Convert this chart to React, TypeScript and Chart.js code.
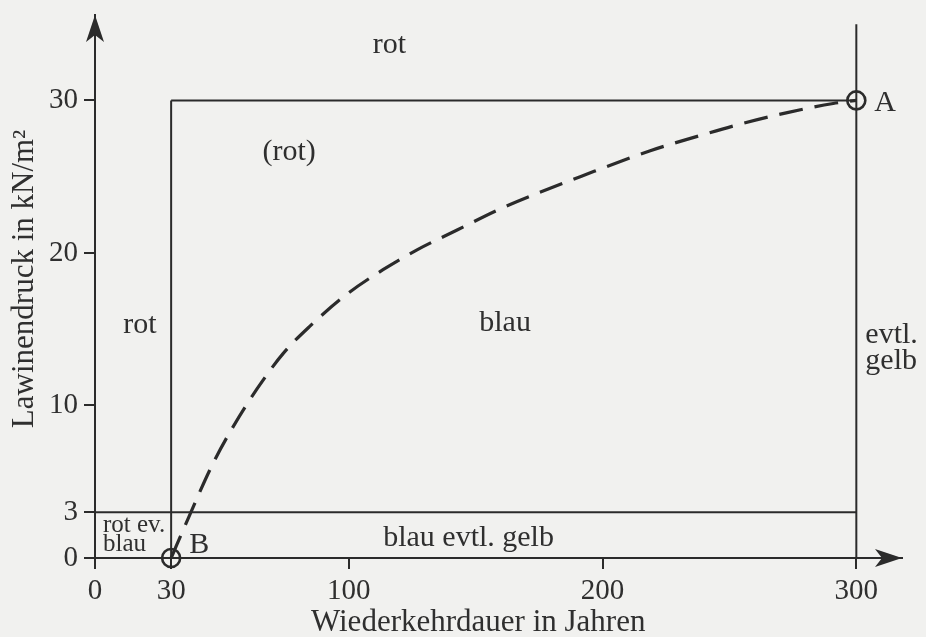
import React, { useEffect, useRef } from "react";
import { Chart, registerables } from "chart.js";

Chart.register(...registerables);

// ---- axes ----
const xTicks = [0, 30, 100, 200, 300];
const yTicks = [0, 3, 10, 20, 30];
const xMax = 318;
const yMax = 35.6;

// ---- dashed curve from B to A ----
const curveX = [30, 37, 46.5, 54.4, 63.9, 74.1, 84.7, 99.3, 113.5, 126.9, 142.7, 158.5, 174.2, 191.2, 218.8, 238.5, 255.4, 272.8, 290.9, 300];
const curveY = [0, 2.7, 6.2, 8.6, 11.1, 13.4, 15.2, 17.3, 18.9, 20.2, 21.5, 22.8, 23.9, 25.0, 26.7, 27.7, 28.5, 29.2, 29.8, 30];

// ---- zone boundaries ----
const lowPressure = 3;
const highPressure = 30;
const shortReturn = 30;
const longReturn = 300;
const longReturnTop = 35;

// ---- marked points ----
const pointNames = ["A", "B"];
const pointX = [300, 30];
const pointY = [30, 0];

// ---- zone names (anchored in data units) ----
const zoneText = ["rot", "(rot)", "rot", "blau", "blau evtl. gelb"];
const zoneX = [116, 76.5, 17.7, 161.6, 147.2];
const zoneY = [33.6, 26.6, 15.3, 15.4, 1.3];

const sideText = ["evtl.", "gelb"];
const sideY = [14.6, 12.9];

const cornerText = ["rot ev.", "blau"];
const cornerY = [2.15, 0.9];

const xTitle = "Wiederkehrdauer in Jahren";
const yTitle = "Lawinendruck in kN/m²";

const FONT = '"Liberation Serif", "Times New Roman", serif';
const INK = "#2b2b2b";
const TEXT = "#2f2f2f";

const paperPlugin = {
  id: "paper",
  beforeDraw(chart: any) {
    const { ctx, width, height } = chart;
    ctx.save();
    ctx.fillStyle = "#f1f1ef";
    ctx.fillRect(0, 0, width, height);
    ctx.restore();
  },
};

const decorPlugin = {
  id: "decor",
  afterDraw(chart: any) {
    const { ctx, chartArea, scales } = chart;
    const xs = scales.x;
    const ys = scales.y;
    ctx.save();
    ctx.fillStyle = INK;
    // x arrow
    const ax = chartArea.right;
    const ay = ys.getPixelForValue(0);
    ctx.beginPath();
    ctx.moveTo(ax, ay);
    ctx.lineTo(ax - 27, ay - 9);
    ctx.lineTo(ax - 20, ay);
    ctx.lineTo(ax - 27, ay + 9);
    ctx.closePath();
    ctx.fill();
    // y arrow
    const bx = xs.getPixelForValue(0);
    const by = chartArea.top;
    ctx.beginPath();
    ctx.moveTo(bx, by);
    ctx.lineTo(bx - 9, by + 27);
    ctx.lineTo(bx, by + 20);
    ctx.lineTo(bx + 9, by + 27);
    ctx.closePath();
    ctx.fill();

    ctx.fillStyle = TEXT;
    ctx.textBaseline = "middle";
    ctx.font = `30px ${FONT}`;
    ctx.textAlign = "center";
    zoneText.forEach((t, i) => {
      ctx.fillText(t, xs.getPixelForValue(zoneX[i]), ys.getPixelForValue(zoneY[i]));
    });
    ctx.textAlign = "left";
    sideText.forEach((t, i) => {
      ctx.fillText(t, xs.getPixelForValue(longReturn) + 9, ys.getPixelForValue(sideY[i]));
    });
    ctx.font = `25px ${FONT}`;
    cornerText.forEach((t, i) => {
      ctx.fillText(t, xs.getPixelForValue(0) + 8, ys.getPixelForValue(cornerY[i]));
    });
    // point names
    ctx.font = `30px ${FONT}`;
    pointNames.forEach((t, i) => {
      const px = xs.getPixelForValue(pointX[i]);
      const py = ys.getPixelForValue(pointY[i]);
      ctx.fillText(t, px + 18, py + (i === 1 ? -13 : 3));
    });
    // axis titles
    ctx.font = `31px ${FONT}`;
    ctx.textAlign = "center";
    ctx.textBaseline = "alphabetic";
    ctx.fillText(xTitle, xs.getPixelForValue(151), chart.height - 6);
    ctx.save();
    ctx.translate(25, ys.getPixelForValue(18.3));
    ctx.rotate(-Math.PI / 2);
    ctx.textBaseline = "middle";
    ctx.fillText(yTitle, 0, 0);
    ctx.restore();
    ctx.restore();
  },
};

const seg = (x1: number, y1: number, x2: number, y2: number) => [
  { x: x1, y: y1 },
  { x: x2, y: y2 },
];

export default function App() {
  const ref = useRef<HTMLCanvasElement>(null);
  useEffect(() => {
    if (!ref.current) return;
    const lineStyle = {
      type: "line" as const,
      borderColor: INK,
      borderWidth: 2,
      pointRadius: 0,
      fill: false,
      order: 3,
    };
    const chart = new Chart(ref.current, {
      type: "line",
      data: {
        datasets: [
          { ...lineStyle, data: seg(0, lowPressure, longReturn, lowPressure) },
          { ...lineStyle, data: seg(shortReturn, highPressure, longReturn, highPressure) },
          { ...lineStyle, data: seg(shortReturn, 0, shortReturn, highPressure) },
          { ...lineStyle, data: seg(longReturn, 0, longReturn, longReturnTop) },
          {
            type: "line",
            data: curveX.map((x, i) => ({ x, y: curveY[i] })),
            borderColor: INK,
            borderWidth: 3.2,
            borderDash: [24, 12],
            pointRadius: 0,
            cubicInterpolationMode: "monotone",
            fill: false,
            order: 2,
            clip: false,
          } as any,
          {
            type: "line",
            data: pointX.map((x, i) => ({ x, y: pointY[i] })),
            showLine: false,
            pointRadius: 9,
            pointBorderWidth: 2.6,
            pointBorderColor: INK,
            pointBackgroundColor: "rgba(0,0,0,0)",
            order: 1,
            clip: false,
          } as any,
        ],
      },
      options: {
        responsive: false,
        animation: false,
        events: [],
        layout: { padding: { top: 15, right: 24, left: 0, bottom: 0 } },
        plugins: {
          legend: { display: false },
          tooltip: { enabled: false },
          title: { display: false },
        },
        scales: {
          x: {
            type: "linear",
            min: 0,
            max: xMax,
            afterBuildTicks: (s: any) => {
              s.ticks = xTicks.map((v) => ({ value: v }));
            },
            afterFit: (s: any) => {
              s.height = 79;
              s.paddingLeft = 0;
              s.paddingRight = 0;
            },
            ticks: {
              autoSkip: false,
              maxRotation: 0,
              color: TEXT,
              padding: 5,
              font: { family: FONT, size: 29 },
            },
            grid: {
              display: true,
              drawOnChartArea: false,
              drawTicks: true,
              tickLength: 11,
              color: INK,
              lineWidth: 2,
            },
            border: { display: true, color: INK, width: 2 },
          },
          y: {
            type: "linear",
            min: 0,
            max: yMax,
            afterBuildTicks: (s: any) => {
              s.ticks = yTicks.map((v) => ({ value: v }));
            },
            afterFit: (s: any) => {
              s.width = 95;
              s.paddingTop = 0;
              s.paddingBottom = 0;
            },
            ticks: {
              autoSkip: false,
              color: TEXT,
              padding: 6,
              font: { family: FONT, size: 29 },
            },
            grid: {
              display: true,
              drawOnChartArea: false,
              drawTicks: true,
              tickLength: 11,
              color: INK,
              lineWidth: 2,
            },
            border: { display: true, color: INK, width: 2 },
          },
        },
      },
      plugins: [paperPlugin, decorPlugin],
    } as any);
    return () => chart.destroy();
  }, []);
  return (
    <div style={{ position: "absolute", left: 0, top: 0, width: 926, height: 637 }}>
      <canvas ref={ref} width={926} height={637} />
    </div>
  );
}
